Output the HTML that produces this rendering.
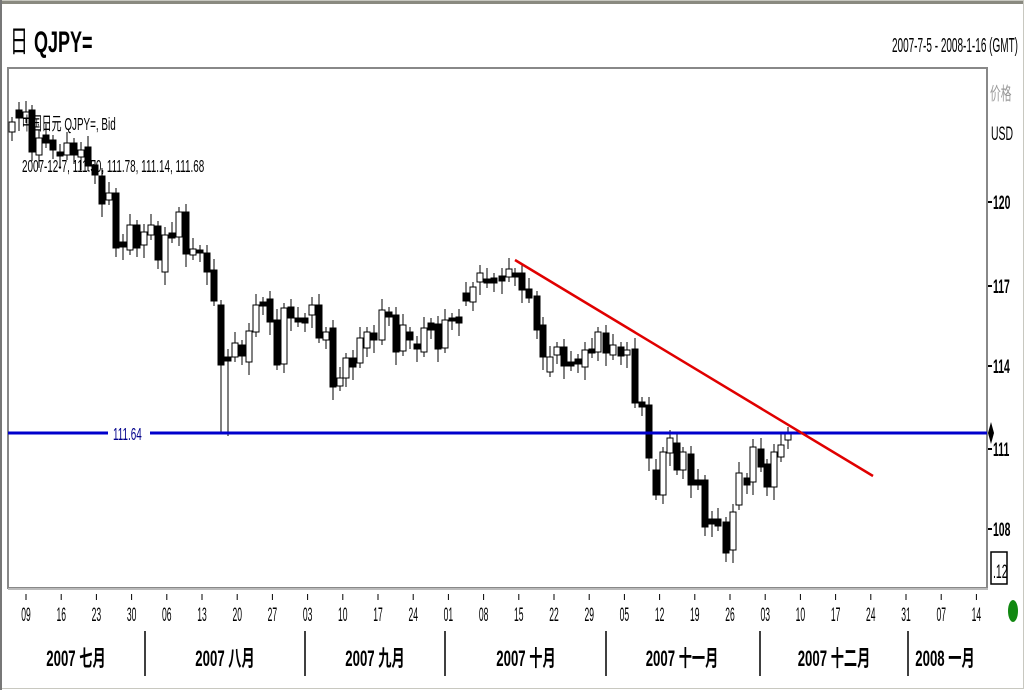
<!DOCTYPE html>
<html><head><meta charset="utf-8"><style>
html,body{margin:0;padding:0;background:#fff;}
svg{display:block;font-family:"Liberation Sans","Noto Sans CJK SC",sans-serif;}
</style></head><body>
<svg id="s" width="1024" height="690" viewBox="0 0 1024 690" xmlns="http://www.w3.org/2000/svg">
<rect x="0" y="0" width="1024" height="690" fill="#fff"/>
<rect x="0" y="0" width="1024" height="4" fill="#8a8a80"/>
<rect x="0.5" y="0.5" width="1023" height="688" fill="none" stroke="#c8c8c0"/>
<line x1="1" y1="0" x2="1" y2="690" stroke="#777" stroke-width="2"/>
<rect x="8" y="68" width="979" height="520" fill="#fff" stroke="#888" stroke-width="2"/>
<line x1="8" y1="589" x2="988" y2="589" stroke="#bbb" stroke-width="2"/>
<g transform="translate(10,52) scale(0.6,1)"><text x="0" y="0" font-size="30" fill="#000">日</text><text x="40" y="0" font-size="30" font-weight="bold">QJPY=</text></g>
<text x="1018" y="52" font-size="20" text-anchor="end" transform="translate(1018,0) scale(0.5,1) translate(-1018,0)">2007-7-5 - 2008-1-16 (GMT)</text>
<text x="990" y="100" font-size="18" fill="#999" transform="translate(990,0) scale(0.6,1) translate(-990,0)">价格</text>
<text x="991" y="140" font-size="19" transform="translate(991,0) scale(0.55,1) translate(-991,0)">USD</text>
<g id="rax" font-size="19" font-weight="bold"></g>
<g id="candles"></g>
<line x1="8" y1="433" x2="108" y2="433" stroke="#0000cc" stroke-width="3"/>
<line x1="150" y1="433" x2="987" y2="433" stroke="#0000cc" stroke-width="3"/>
<text x="113" y="440" font-size="18" fill="#00008b" transform="translate(113,0) scale(0.55,1) translate(-113,0)">111.64</text>
<line x1="515" y1="260" x2="873" y2="476" stroke="#e00000" stroke-width="2.5"/>
<path d="M991,422 L994,433 L991,444 L988,433Z" fill="#000"/>
<rect x="991" y="552" width="16" height="32" fill="#fff" stroke="#000" stroke-width="1.5"/>
<text x="993" y="578" font-size="19" transform="translate(993,0) scale(0.55,1) translate(-993,0)">.12</text>
<ellipse cx="1013" cy="611" rx="5" ry="11" fill="#118811"/>
<text x="22" y="130" font-size="18" transform="translate(22,0) scale(0.55,1) translate(-22,0)">中国日元 QJPY=, Bid</text>
<text x="22" y="172" font-size="18" transform="translate(22,0) scale(0.55,1) translate(-22,0)">2007-12-7, 111.50, 111.78, 111.14, 111.68</text>
<g id="xax" font-size="19"></g>
<g id="mon" font-size="22" font-weight="bold"></g>
</svg>
<script>
var NS="http://www.w3.org/2000/svg";
function el(p,t,a,txt){var e=document.createElementNS(NS,t);for(var k in a)e.setAttribute(k,a[k]);if(txt!=null)e.textContent=txt;document.getElementById(p).appendChild(e);return e;}
[[120,203],[117,287],[114,367],[111,450],[108,530]].forEach(function(v){
 el("rax","line",{x1:988,y1:v[1]-1,x2:992,y2:v[1]-1,stroke:"#000","stroke-width":2});
 el("rax","text",{x:993,y:v[1]+6,transform:"translate(993,0) scale(0.55,1) translate(-993,0)"},String(v[0]));
});
var lab=["09","16","23","30","06","13","20","27","03","10","17","24","01","08","15","22","29","05","12","19","26","03","10","17","24","31","07","14"];
lab.forEach(function(l,i){var x=26+i*35.2;
 el("xax","line",{x1:x,y1:594,x2:x,y2:600,stroke:"#000"});
 el("xax","text",{x:x,y:621,"text-anchor":"middle",transform:"translate("+x+",0) scale(0.45,1) translate("+(-x)+",0)"},l);});
[145,305,445,606,760,908].forEach(function(x){el("xax","line",{x1:x,y1:631,x2:x,y2:676,stroke:"#000","stroke-width":1.5});});
[[76,"2007 七月"],[225,"2007 八月"],[375,"2007 九月"],[526,"2007 十月"],[682,"2007 十一月"],[834,"2007 十二月"],[945,"2008 一月"]].forEach(function(m){
 el("mon","text",{x:m[0],y:666,"text-anchor":"middle",transform:"translate("+m[0]+",0) scale(0.6,1) translate("+(-m[0])+",0)"},m[1]);});
var C=[[12,122,132,0],[19,110,118,1],[26,112,118,0],[32,110,152,1],[39,138,155,0],[46,135,143,1],[53,140,150,1],[60,152,156,1],[67,143,155,0],[74,143,155,1],[81,150,157,0],[88,147,166,1],[95,165,175,1],[102,176,204,1],[109,193,200,0],[116,193,248,1],[123,242,247,1],[130,225,250,0],[137,225,248,1],[144,232,245,0],[151,225,235,0],[158,226,260,1],[165,235,272,0],[172,233,238,1],[179,212,237,0],[186,212,254,1],[193,249,255,0],[200,250,253,1],[207,253,272,1],[214,270,301,1],[221,305,365,1],[228,357,361,1],[235,343,357,0],[242,345,356,1],[249,331,362,0],[256,305,332,0],[263,302,306,1],[270,299,322,1],[277,320,365,1],[284,308,364,0],[291,307,318,1],[298,318,322,1],[305,318,323,1],[312,305,315,0],[319,305,338,1],[326,332,340,0],[333,328,387,1],[340,378,386,0],[346,358,378,0],[353,358,367,1],[360,338,363,0],[367,332,348,0],[374,333,340,1],[382,310,340,0],[389,312,317,1],[396,315,352,1],[403,325,351,0],[410,332,340,1],[417,344,349,1],[424,328,352,0],[431,323,330,1],[438,324,349,1],[445,320,348,0],[452,318,321,1],[459,317,323,1],[466,293,301,1],[473,287,302,0],[480,273,282,0],[487,279,283,1],[494,278,283,1],[502,276,281,1],[509,269,277,0],[515,273,277,1],[522,273,290,1],[529,289,298,1],[537,296,330,1],[543,325,357,1],[550,357,372,0],[557,347,355,0],[564,347,366,1],[571,362,366,1],[578,359,364,1],[585,350,367,0],[592,349,353,1],[598,332,352,0],[606,333,353,1],[613,345,355,0],[621,347,356,1],[627,350,355,0],[635,349,403,1],[642,402,407,1],[649,405,458,1],[656,470,495,1],[663,452,495,0],[670,438,453,0],[677,443,470,1],[683,452,470,0],[691,454,485,1],[698,480,485,1],[705,480,527,1],[712,519,524,1],[718,519,526,1],[726,522,553,1],[733,512,550,0],[739,473,505,0],[747,478,485,1],[753,447,482,0],[761,449,467,1],[767,464,487,1],[774,452,487,0],[781,445,457,0],[788,432,440,0]];
C.forEach(function(c,i){
 var wt=c[1]-5-(i%3)*3, wb=c[2]+5+((i+1)%3)*4;
 if(c[0]==221)wb=434; if(c[0]==228)wb=436;
 el("candles","line",{x1:c[0],y1:wt,x2:c[0],y2:wb,stroke:"#000","stroke-width":1});
 el("candles","rect",{x:c[0]-3,y:c[1],width:6,height:Math.max(3,c[2]-c[1]),fill:c[3]?"#000":"#fff",stroke:"#000","stroke-width":1});
});
</script>
</body></html>
